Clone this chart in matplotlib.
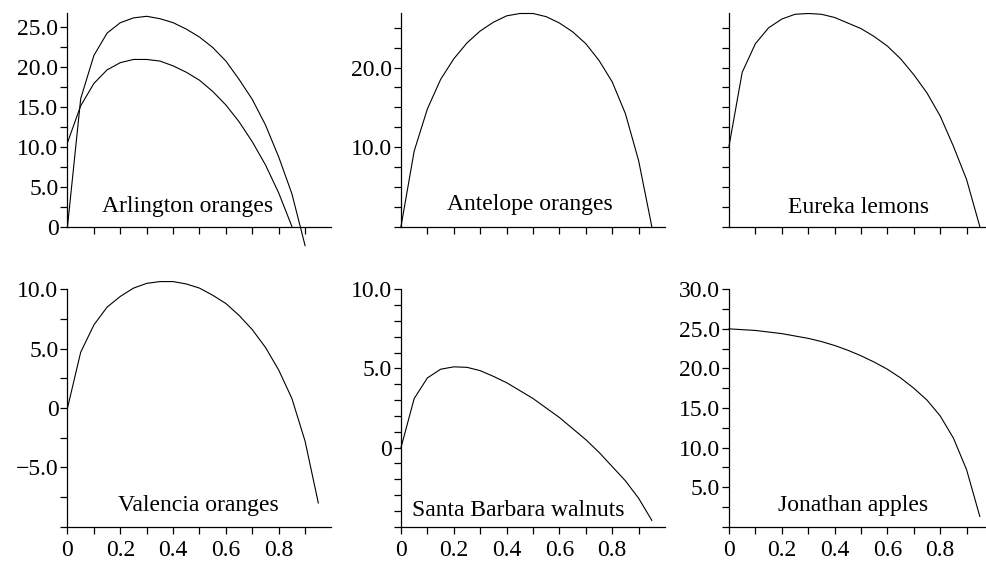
import matplotlib
matplotlib.use("Agg")
import matplotlib.pyplot as plt
from matplotlib.ticker import MultipleLocator, FixedLocator, FixedFormatter, NullFormatter

plt.rcParams['font.family'] = ['Liberation Serif', 'DejaVu Serif']
plt.rcParams['font.size'] = 17

# valores, x cada 0.05
x_vals = [0.0, 0.05, 0.1, 0.15, 0.2, 0.25, 0.3, 0.35, 0.4, 0.45,
          0.5, 0.55, 0.6, 0.65, 0.7, 0.75, 0.8, 0.85, 0.9, 0.95]

arlington_a = [0.0, 16.0, 21.4, 24.2, 25.5, 26.1, 26.3, 26.0, 25.5, 24.7,
               23.7, 22.4, 20.7, 18.4, 15.9, 12.7, 8.7, 4.1, -2.4]
arlington_b = [10.5, 15.1, 17.9, 19.6, 20.5, 20.9, 20.9, 20.7, 20.1, 19.3,
               18.3, 16.9, 15.2, 13.1, 10.6, 7.7, 4.2, 0.0]
antelope = [0.0, 9.5, 14.8, 18.5, 21.1, 23.1, 24.6, 25.7, 26.5, 26.8,
            26.8, 26.4, 25.6, 24.5, 23.0, 20.9, 18.2, 14.2, 8.3, 0.0]
eureka = [10.1, 19.4, 23.0, 25.0, 26.1, 26.7, 26.8, 26.7, 26.3, 25.6,
          24.9, 23.9, 22.7, 21.1, 19.1, 16.8, 13.9, 10.1, 5.9, 0.0]
valencia = [0.0, 4.7, 7.0, 8.5, 9.4, 10.1, 10.5, 10.65, 10.65, 10.45,
            10.1, 9.5, 8.8, 7.8, 6.6, 5.1, 3.2, 0.8, -2.8, -8.0]
walnuts = [0.0, 3.1, 4.4, 4.95, 5.1, 5.07, 4.86, 4.5, 4.1, 3.6,
           3.1, 2.5, 1.9, 1.2, 0.5, -0.3, -1.2, -2.1, -3.2, -4.6]
jonathan = [25.0, 24.9, 24.8, 24.6, 24.4, 24.1, 23.8, 23.4, 22.9, 22.3,
            21.6, 20.8, 19.9, 18.8, 17.5, 16.0, 14.0, 11.2, 7.2, 1.3]

nombres = ['Arlington oranges', 'Antelope oranges', 'Eureka lemons',
           'Valencia oranges', 'Santa Barbara walnuts', 'Jonathan apples']
series = [[arlington_a, arlington_b], [antelope], [eureka],
          [valencia], [walnuts], [jonathan]]

# eje y de cada panel: limites, marcas con etiqueta, paso de marcas menores
y_lims = [(0, 26.75), (0, 26.9), (0, 26.9), (-10, 10), (-5, 10), (0, 30)]
y_major = [[0, 5, 10, 15, 20, 25], [10, 20], [10, 20],
           [-5, 0, 5, 10], [0, 5, 10], [5, 10, 15, 20, 25, 30]]
y_labels = [['0', '5.0', '10.0', '15.0', '20.0', '25.0'], ['10.0', '20.0'], None,
            ['\u22125.0', '0', '5.0', '10.0'], ['0', '5.0', '10.0'],
            ['5.0', '10.0', '15.0', '20.0', '25.0', '30.0']]
y_minor = [2.5, 2.5, 2.5, 2.5, 1.0, 2.5]

# posicion de los nombres (x en datos, y en fraccion del eje)
pos_nombres = [(0.453, 0.069), (0.489, 0.077), (0.489, 0.062),
               (0.494, 0.067), (0.443, 0.045), (0.470, 0.067)]

W, H = 987, 562
fig = plt.figure(figsize=(W / 100, H / 100), dpi=100)

lefts = [67.5, 401, 729]
rows = [(226.5, 12.7), (526.7, 289.3)]  # (eje x, tope) en pixeles

for i in range(6):
    fila, col = divmod(i, 3)
    base, tope = rows[fila]
    left = lefts[col]
    ancho = min(264, 986 - left)
    ax = fig.add_axes([left / W, 1 - base / H, ancho / W, (base - tope) / H])

    for s in series[i]:
        ax.plot(x_vals[:len(s)], s, color='black', lw=0.8, clip_on=False)

    ax.set_xlim(0, ancho / 264)
    ax.set_ylim(*y_lims[i])

    ax.spines['top'].set_visible(False)
    ax.spines['right'].set_visible(False)
    for sp in ['left', 'bottom']:
        ax.spines[sp].set_linewidth(0.9)

    ax.yaxis.set_major_locator(FixedLocator(y_major[i]))
    if y_labels[i] is None:
        ax.yaxis.set_major_formatter(NullFormatter())
    else:
        ax.yaxis.set_major_formatter(FixedFormatter(y_labels[i]))
    ax.yaxis.set_minor_locator(MultipleLocator(y_minor[i]))

    if fila == 0:
        ax.xaxis.set_major_locator(FixedLocator([0.1, 0.2, 0.3, 0.4, 0.5, 0.6, 0.7, 0.8, 0.9]))
        ax.xaxis.set_major_formatter(NullFormatter())
    else:
        ax.xaxis.set_major_locator(FixedLocator([0, 0.2, 0.4, 0.6, 0.8]))
        ax.xaxis.set_major_formatter(FixedFormatter(['0', '0.2', '0.4', '0.6', '0.8']))
        ax.xaxis.set_minor_locator(FixedLocator([0.1, 0.3, 0.5, 0.7, 0.9]))

    ax.tick_params(which='both', direction='out', length=5, width=0.9, color='black')
    ax.tick_params(axis='y', which='major', pad=1.5)
    ax.tick_params(axis='x', which='major', pad=4.5)

    tx, ty = pos_nombres[i]
    ax.text(tx, ty, nombres[i], transform=ax.get_xaxis_transform(),
            ha='center', va='baseline')

fig.savefig('out.png', dpi=100)
